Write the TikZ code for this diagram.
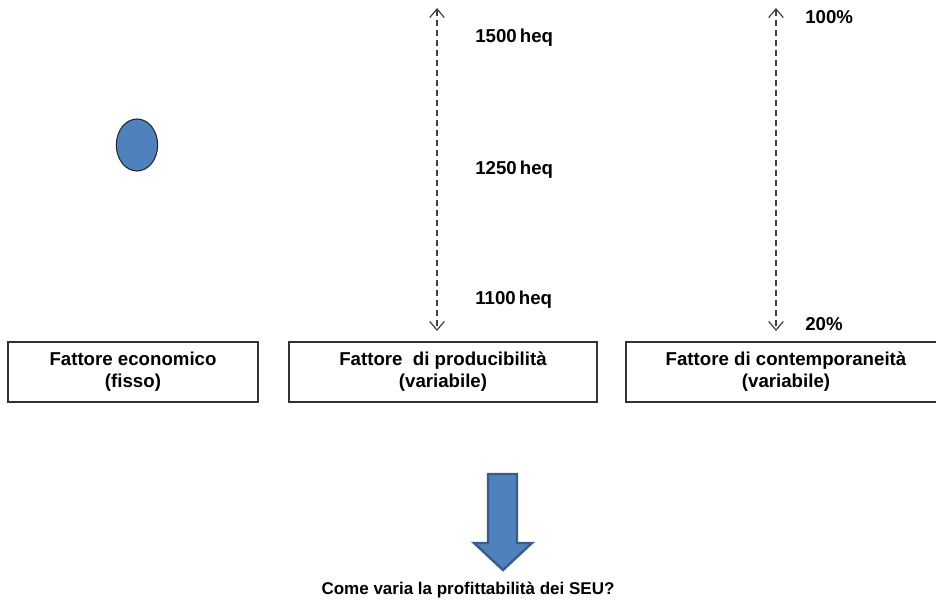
\documentclass[tikz,border=0pt]{standalone}
\usepackage{fontspec}
\setmainfont{Liberation Sans}
\usetikzlibrary{arrows.meta,shapes.geometric}
\definecolor{officeblue}{HTML}{4F81BD}
\definecolor{officeedge}{HTML}{385D8A}
\begin{document}
\begin{tikzpicture}[x=0.75pt,y=-0.75pt,
  lbl/.style={font=\fontsize{14}{17}\selectfont\bfseries, inner sep=0pt, anchor=west},
  factorbox/.style={draw=black!80, line width=1.1pt, minimum height=45pt, align=center,
    font=\fontsize{14}{16.5}\selectfont\bfseries, inner sep=0pt},
  scalearrow/.style={draw=black!75, line width=0.9pt, dash pattern=on 4.5pt off 3pt,
    {Straight Barb[length=6.5pt,width=11pt]}-{Straight Barb[length=6.5pt,width=11pt]}}
]
\clip (0,0) rectangle (936,603);
\fill[white] (0,0) rectangle (936,603);

% ellipse marker
\node[draw=black!85, line width=0.8pt, fill=officeblue, ellipse, minimum width=31pt, minimum height=39pt, inner sep=0pt] (dot) at (137,145) {};

% factor boxes
\node[factorbox, minimum width=187.5pt] (econ) at (133,372) {Fattore economico\\(fisso)};
\node[factorbox, minimum width=231pt] (prod) at (443,372) {Fattore\ \ di producibilità\\(variabile)};
\node[factorbox, minimum width=240pt] (cont) at (786,372) {Fattore di contemporaneità\\(variabile)};

% scale arrows
\coordinate (pTop) at (437,8);
\coordinate (pBot) at (437,331);
\draw[scalearrow] (pTop) -- (pBot);
\coordinate (cTop) at (776,8);
\coordinate (cBot) at (776,331);
\draw[scalearrow] (cTop) -- (cBot);

% scale labels
\node[lbl] (l1500) at (475,38) {1500\,heq};
\node[lbl] (l1250) at (475,170) {1250\,heq};
\node[lbl] (l1100) at (475,300) {1100\,heq};
\node[lbl] (l100) at (805,17) {100\%};
\node[lbl] (l20) at (805,324) {20\%};

% block arrow
\draw[fill=officeblue, draw=officeedge, line width=1.8pt, line join=miter]
  (488,474) -- (517,474) -- (517,543) -- (532,543) -- (503,570) -- (474,543) -- (488,543) -- cycle;

% question
\node[font=\fontsize{12.75}{15}\selectfont\bfseries, inner sep=0pt] (question) at (468,590) {Come varia la profittabilità dei SEU?};
\end{tikzpicture}
\end{document}
